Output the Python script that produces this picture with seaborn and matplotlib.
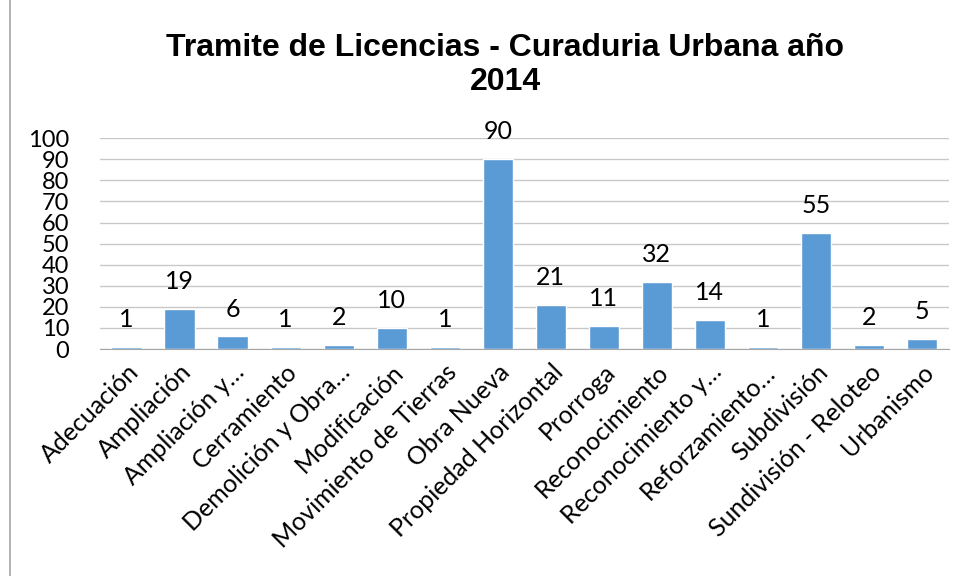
import matplotlib
matplotlib.use("Agg")
import matplotlib.pyplot as plt
import seaborn as sns
import pandas as pd

categorias = ["Adecuación", "Ampliación", "Ampliación y…", "Cerramiento",
              "Demolición y Obra…", "Modificación", "Movimiento de Tierras",
              "Obra Nueva", "Propiedad Horizontal", "Prorroga",
              "Reconocimiento", "Reconocimiento y…", "Reforzamiento…",
              "Subdivisión", "Sundivisión - Reloteo", "Urbanismo"]
valores = [1, 19, 6, 1, 2, 10, 1, 90, 21, 11, 32, 14, 1, 55, 2, 5]
yticks = list(range(0, 101, 10))

sns.set_style("white")
plt.rcParams['font.family'] = ['Lato', 'DejaVu Sans']
plt.rcParams['text.color'] = 'black'
plt.rcParams['xtick.color'] = 'black'
plt.rcParams['ytick.color'] = 'black'

df = pd.DataFrame({"cat": categorias, "val": valores})

fig = plt.figure(figsize=(9.66, 5.76), dpi=100)
ax = fig.add_axes([0.1035, 0.394, 0.8785, 0.366])
sns.barplot(data=df, x="cat", y="val", color="#5B9BD5", width=0.57,
            saturation=1, ax=ax, zorder=3)

ax.set_ylim(0, 100)
ax.set_yticks(yticks)
ax.set_xlim(-0.5, len(categorias) - 0.5)
ax.grid(axis="y", color="#C8C8C8", linewidth=1, zorder=0)
ax.set_xlabel("")
ax.set_ylabel("")
for s in ["top", "right", "left"]:
    ax.spines[s].set_visible(False)
ax.spines["bottom"].set_color("#A6A6A6")
ax.tick_params(axis="y", length=0, labelsize=17, pad=22)
ax.tick_params(axis="x", length=0, labelsize=18, pad=8)
plt.setp(ax.get_xticklabels(), rotation=45, ha="right", rotation_mode="anchor")

for i, v in enumerate(valores):
    ax.text(i, v + 13, str(v), ha="center", va="center", fontsize=18)

fig.text(0.523, 0.887, "Tramite de Licencias - Curaduria Urbana año\n2014",
         ha="center", va="center", fontsize=23, fontweight="bold",
         family="Liberation Sans", linespacing=1.2)

fig.add_artist(plt.Line2D([0.0105, 0.0105], [0, 1], color="#A6A6A6", lw=1.2))

fig.savefig("out.png", dpi=100)
